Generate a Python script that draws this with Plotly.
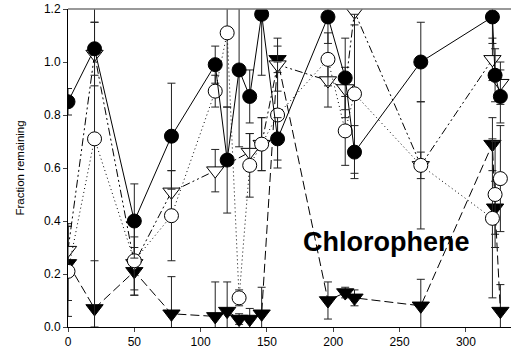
import plotly.graph_objects as go

# Filled circles (solid line)
fc_x = [0, 20, 50, 78, 111, 120, 129, 137, 146, 158, 196, 209, 216, 266, 320, 322, 326]
fc_y = [0.85, 1.05, 0.40, 0.72, 0.99, 0.63, 0.97, 0.87, 1.18, 0.71, 1.17, 0.94, 0.66, 1.00, 1.17, 0.95, 0.87]
fc_e = [0.05, 0.10, 0.14, 0.20, 0.07, 0.20, 0.29, 0.10, 0.23, 0.08, 0.10, 0.15, 0.10, 0.15, 0.10, 0.10, 0.10]

# Open circles (dotted line)
oc_x = [0, 20, 50, 78, 111, 120, 129, 137, 146, 158, 196, 209, 216, 266, 320, 322, 326]
oc_y = [0.21, 0.71, 0.25, 0.42, 0.89, 1.11, 0.11, 0.61, 0.69, 0.80, 1.01, 0.74, 0.88, 0.61, 0.41, 0.50, 0.56]
oc_e = [0.17, 0.71, 0.13, 0.17, 0.06, 0.28, 0.03, 0.12, 0.10, 0.20, 0.10, 0.13, 0.30, 0.24, 0.30, 0.20, 0.20]

# Open down-triangles (dash-dot-dot line)
ot_x = [0, 20, 50, 78, 111, 137, 146, 158, 196, 209, 216, 266, 320, 326]
ot_y = [0.29, 1.03, 0.24, 0.51, 0.59, 0.66, 0.69, 0.99, 0.93, 0.90, 1.19, 0.61, 1.01, 0.92]
ot_e = [0.10, 0.12, 0.10, 0.08, 0.08, 0.07, 0.10, 0.10, 0.10, 0.08, 0.05, 0.05, 0.08, 0.08]

# Filled down-triangles (dashed line)
ft_x = [0, 20, 50, 78, 111, 120, 129, 137, 146, 158, 196, 209, 216, 266, 320, 322, 326]
ft_y = [0.24, 0.07, 0.21, 0.05, 0.04, 0.06, 0.03, 0.03, 0.05, 1.01, 0.10, 0.13, 0.11, 0.08, 0.69, 0.45, 0.06]
ft_e = [0.14, 0.18, 0.09, 0.14, 0.13, 0.11, 0.02, 0.04, 0.10, 0.05, 0.07, 0.02, 0.03, 0.10, 0.10, 0.10, 0.10]

x_ticks = [0, 50, 100, 150, 200, 250, 300]
y_ticks = [0.0, 0.2, 0.4, 0.6, 0.8, 1.0, 1.2]

def err(e):
    return dict(type="data", array=e, visible=True, color="#222", thickness=1, width=4)

fig = go.Figure()
fig.add_trace(go.Scatter(x=ft_x, y=ft_y, mode="lines+markers", error_y=err(ft_e),
                         line=dict(color="black", width=1, dash="9px,4px"),
                         marker=dict(symbol="triangle-down", size=15, color="black",
                                     line=dict(color="black", width=1))))
fig.add_trace(go.Scatter(x=ot_x, y=ot_y, mode="lines+markers", error_y=err(ot_e),
                         line=dict(color="black", width=1, dash="8px,3px,2px,3px,2px,3px"),
                         marker=dict(symbol="triangle-down", size=15, color="white",
                                     line=dict(color="black", width=1))))
fig.add_trace(go.Scatter(x=oc_x, y=oc_y, mode="lines+markers", error_y=err(oc_e),
                         line=dict(color="black", width=1, dash="1px,3px"),
                         marker=dict(symbol="circle", size=14, color="white",
                                     line=dict(color="black", width=1))))
fig.add_trace(go.Scatter(x=fc_x, y=fc_y, mode="lines+markers", error_y=err(fc_e),
                         line=dict(color="black", width=1),
                         marker=dict(symbol="circle", size=14, color="black",
                                     line=dict(color="black", width=1))))

fig.add_annotation(x=240, y=0.32, text="<b>Chlorophene</b>", showarrow=False,
                   font=dict(family="Liberation Sans, Arial", size=27, color="black"))

# gray top frame line
fig.add_shape(type="line", xref="paper", yref="paper", x0=0, x1=1, y0=1, y1=1,
              line=dict(color="#777", width=1.5))

fig.update_layout(
    width=512, height=358,
    margin=dict(l=68, r=1, t=9, b=31),
    paper_bgcolor="white", plot_bgcolor="white",
    showlegend=False,
    font=dict(family="Liberation Sans, Arial", size=11, color="black"),
    xaxis=dict(range=[0, 334], tickvals=x_ticks, ticks="outside", ticklen=4,
               showgrid=False, zeroline=False, showline=True, linecolor="black",
               linewidth=1, tickfont=dict(size=12, color="black")),
    yaxis=dict(range=[0, 1.2], tickvals=y_ticks, tickformat=".1f", ticks="outside",
               ticklen=4, showgrid=False, zeroline=False, showline=True,
               linecolor="black", linewidth=1,
               title=dict(text="Fraction remaining", font=dict(size=11.5, color="black"), standoff=16),
               tickfont=dict(size=12, color="black")),
)
fig.write_html("out.html")
